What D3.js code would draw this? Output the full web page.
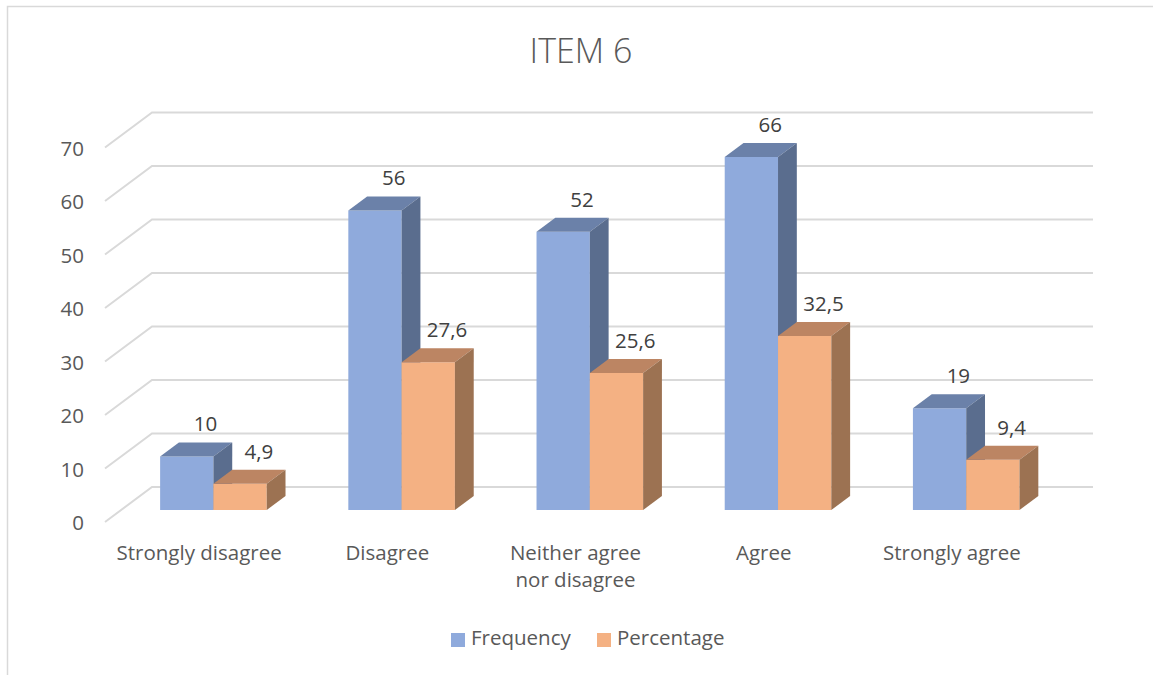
<!DOCTYPE html>
<html>
<head>
<meta charset="utf-8">
<script src="https://cdn.jsdelivr.net/npm/d3@7"></script>
<style>
  html, body { margin: 0; padding: 0; background: #fff; }
  svg { display: block; font-family: "Open Sans", sans-serif; }
</style>
</head>
<body>
<svg id="chart" width="1153" height="675"></svg>
<script>
// Survey responses for item 6
const categories = ["Strongly disagree", "Disagree", "Neither agree nor disagree", "Agree", "Strongly agree"];
const frequency = [10, 56, 52, 66, 19];
const percentage = [4.9, 27.6, 25.6, 32.5, 9.4];
const yTicks = [0, 10, 20, 30, 40, 50, 60, 70];
const seriesNames = ["Frequency", "Percentage"];
const title = "ITEM 6";

const W = 1153, H = 675;
const FS = 20.5;
const svg = d3.select("#chart");

// colours: front, top, side faces of each series
const palette = [
  { front: "#8faadc", top: "#6b81a9", side: "#5a6d8e" },
  { front: "#f4b183", top: "#bc8563", side: "#9c7252" }
];

// oblique 3D projection: depth d in [0,1] moves right and up
const depthDX = 47, depthDY = -35;
const floorY = 522;           // value 0 on the front plane
const x = d3.scaleBand().domain(categories).range([105, 1046]);
const h = d3.scaleLinear().domain([0, 70]).range([0, 374.5]);
const proj = (px, v, d) => [px + depthDX * d, floorY - h(v) + depthDY * d];

const locale = d3.formatLocale({ decimal: ",", thousands: ".", grouping: [3], currency: ["", ""] });
const fmtPct = locale.format(".1f");
const fmtInt = locale.format("d");

// chart frame
svg.append("rect").attr("x", 0).attr("y", 0).attr("width", W).attr("height", H).attr("fill", "#fff");
svg.append("rect").attr("x", 7.5).attr("y", 6.5).attr("width", W + 20).attr("height", H + 20)
  .attr("fill", "none").attr("stroke", "#d9d9d9").attr("stroke-width", 1.5);

// title
svg.append("text").attr("x", 581).attr("y", 63).attr("text-anchor", "middle")
  .attr("font-size", 34).attr("font-weight", 300).attr("fill", "#595959").text(title);

// gridlines: left wall diagonal + back wall horizontal
const grid = svg.append("g").attr("stroke", "#d9d9d9").attr("stroke-width", 2).attr("fill", "none");
yTicks.forEach(t => {
  const a = proj(x.range()[0], t, 0), b = proj(x.range()[0], t, 1), c = proj(x.range()[1], t, 1);
  grid.append("path").attr("d", d3.line()([a, b, c]));
});

// value axis labels
svg.append("g").selectAll("text").data(yTicks).join("text")
  .attr("x", 84).attr("y", t => proj(0, t, 0)[1] + 3)
  .attr("text-anchor", "end").attr("dominant-baseline", "middle")
  .attr("font-size", FS).attr("fill", "#595959").text(t => t);

// bars
const barW = 53.3, groupOffset = 39, dFront = 0.343, dBack = 0.743;
const barsG = svg.append("g");
const labelsG = svg.append("g");
categories.forEach((cat, i) => {
  [frequency[i], percentage[i]].forEach((v, s) => {
    const x0 = x(cat) + groupOffset + s * barW, x1 = x0 + barW;
    const col = palette[s];
    const f00 = proj(x0, 0, dFront), f10 = proj(x1, 0, dFront);
    const f01 = proj(x0, v, dFront), f11 = proj(x1, v, dFront);
    const b01 = proj(x0, v, dBack), b11 = proj(x1, v, dBack), b10 = proj(x1, 0, dBack);
    const g = barsG.append("g");
    g.append("path").attr("d", d3.line()([f00, f10, f11, f01]) + "Z").attr("fill", col.front);
    g.append("path").attr("d", d3.line()([f01, f11, b11, b01]) + "Z").attr("fill", col.top);
    g.append("path").attr("d", d3.line()([f10, b10, b11, f11]) + "Z").attr("fill", col.side);
    labelsG.append("text")
      .attr("x", (b01[0] + b11[0]) / 2).attr("y", b01[1] - 11)
      .attr("text-anchor", "middle").attr("font-size", FS).attr("fill", "#404040")
      .text(s === 0 ? fmtInt(v) : fmtPct(v));
  });
});

// category labels; long ones are split into two balanced lines
const catG = svg.append("g");
categories.forEach(cat => {
  const t = catG.append("text").attr("text-anchor", "middle").attr("font-size", FS).attr("fill", "#595959");
  const cx = x(cat) + x.bandwidth() / 2;
  t.text(cat);
  let lines = [cat];
  if (t.node().getComputedTextLength() > x.bandwidth() - 10) {
    const words = cat.split(" ");
    const k = Math.ceil(words.length / 2);
    lines = [words.slice(0, k).join(" "), words.slice(k).join(" ")];
  }
  t.text(null);
  lines.forEach((l, k) => t.append("tspan").attr("x", cx).attr("y", 560 + k * 27).text(l));
});

// legend
const legend = svg.append("g").attr("font-size", FS).attr("fill", "#595959");
const legendX = [451, 597];
seriesNames.forEach((n, s) => {
  legend.append("rect").attr("x", legendX[s]).attr("y", 633).attr("width", 14).attr("height", 14).attr("fill", palette[s].front);
  legend.append("text").attr("x", legendX[s] + 20).attr("y", 640).attr("dominant-baseline", "middle").text(n);
});
</script>
</body>
</html>
